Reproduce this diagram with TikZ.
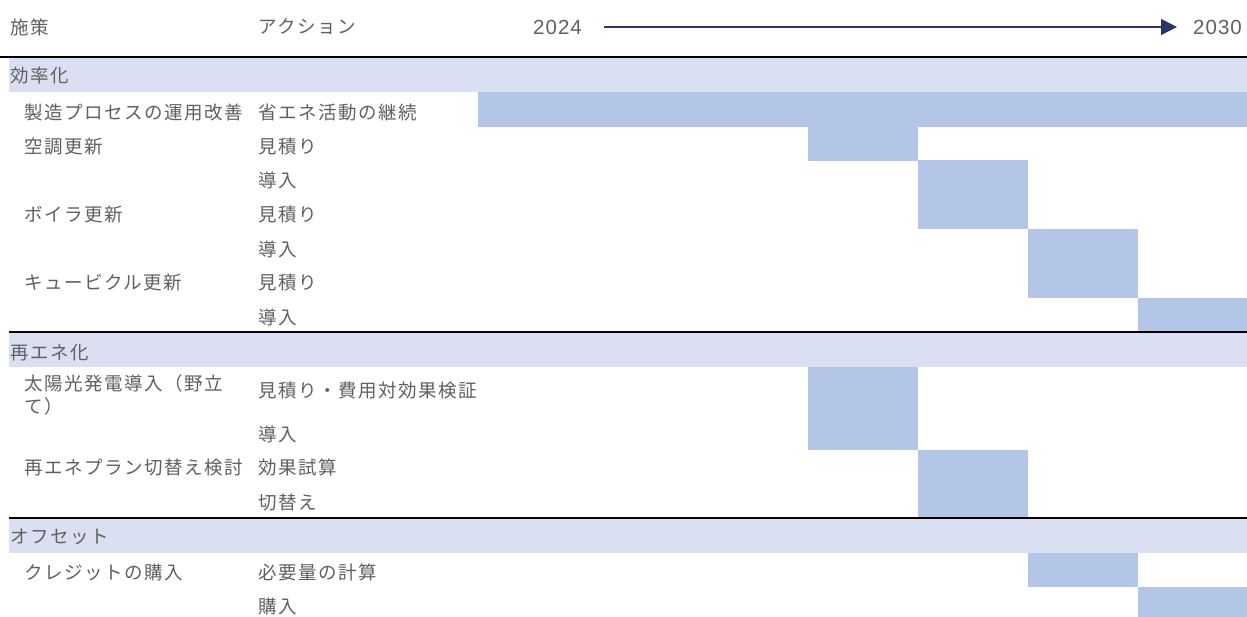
\documentclass[tikz,border=0pt]{standalone}
\usepackage{fontspec}
\setmainfont{Noto Sans CJK JP}[LetterSpace=8]
\newfontfamily\numfont{Liberation Sans}[LetterSpace=5]
\usetikzlibrary{arrows.meta}
\definecolor{txt}{HTML}{606060}
\definecolor{bandcol}{HTML}{DAE0F2}
\definecolor{barcol}{HTML}{B4C6E7}
\definecolor{navy}{HTML}{2B3467}
\begin{document}
\begin{tikzpicture}[x=1pt,y=-1pt,
  lbl/.style={anchor=west,inner sep=0pt,text=txt,font=\fontsize{18.5}{23}\selectfont},
  twoline/.style={lbl,align=left},
  num/.style={anchor=west,inner sep=0pt,text=txt,font=\numfont\fontsize{20.5}{24}\selectfont},
  bandbox/.style={fill=bandcol},
  barbox/.style={fill=barcol},
  sepline/.style={draw=black,line width=1.4pt},
  timeline/.style={draw=navy,line width=1.4pt,-{Triangle[length=16pt,width=16pt]}}]
\fill[white] (0,0) rectangle (1247,617);
\useasboundingbox (0,0) rectangle (1247,617);
% section bands
\fill[bandbox] (9,58) rectangle (1247,92);
\fill[bandbox] (9,333) rectangle (1247,367);
\fill[bandbox] (9,519) rectangle (1247,553);
% bars
\fill[barbox] (478,92) rectangle (1247,127);
\fill[barbox] (808,126) rectangle (918,161);
\fill[barbox] (918,160) rectangle (1028,195);
\fill[barbox] (918,194) rectangle (1028,229);
\fill[barbox] (1028,229) rectangle (1138,264);
\fill[barbox] (1028,263) rectangle (1138,298);
\fill[barbox] (1138,298) rectangle (1247,332);
\fill[barbox] (808,367) rectangle (918,450);
\fill[barbox] (918,450) rectangle (1028,518);
\fill[barbox] (1028,553) rectangle (1138,587);
\fill[barbox] (1138,587) rectangle (1247,617);
% separators
\draw[sepline] (0,57) -- (1247,57);
\draw[sepline] (9,332) -- (1247,332);
\draw[sepline] (9,518) -- (1247,518);
% header
\node[lbl] (h1) at (10,27) {施策};
\node[lbl] (h2) at (258,27) {アクション};
\node[num] (y0) at (533,27) {2024};
\node[num] (y1) at (1193,27) {2030};
\coordinate (t0) at (604,27);
\coordinate (t1) at (1177,27);
\draw[timeline] (t0) -- (t1);
% sections
\node[lbl] (s1) at (10,75.5) {効率化};
\node[lbl] (s2) at (10,352.5) {再エネ化};
\node[lbl] (s3) at (10,537) {オフセット};
% measures
\node[lbl] (m1) at (24,113) {製造プロセスの運用改善};
\node[lbl] (m2) at (24,146.5) {空調更新};
\node[lbl] (m3) at (24,214.5) {ボイラ更新};
\node[lbl] (m4) at (24,283) {キュービクル更新};
\node[twoline] (m5) at (24,394.5) {太陽光発電導入（野立\\て）};
\node[lbl] (m6) at (24,467.5) {再エネプラン切替え検討};
\node[lbl] (m7) at (24,572) {クレジットの購入};
% actions
\node[lbl] (a1) at (258,113) {省エネ活動の継続};
\node[lbl] (a2) at (258,146.5) {見積り};
\node[lbl] (a3) at (258,180.5) {導入};
\node[lbl] (a4) at (258,214.5) {見積り};
\node[lbl] (a5) at (258,249) {導入};
\node[lbl] (a6) at (258,283) {見積り};
\node[lbl] (a7) at (258,317) {導入};
\node[lbl] (a8) at (258,390.5) {見積り・費用対効果検証};
\node[lbl] (a9) at (258,434.5) {導入};
\node[lbl] (a10) at (258,467.5) {効果試算};
\node[lbl] (a11) at (258,502.5) {切替え};
\node[lbl] (a12) at (258,572) {必要量の計算};
\node[lbl] (a13) at (258,606) {購入};
\end{tikzpicture}
\end{document}
